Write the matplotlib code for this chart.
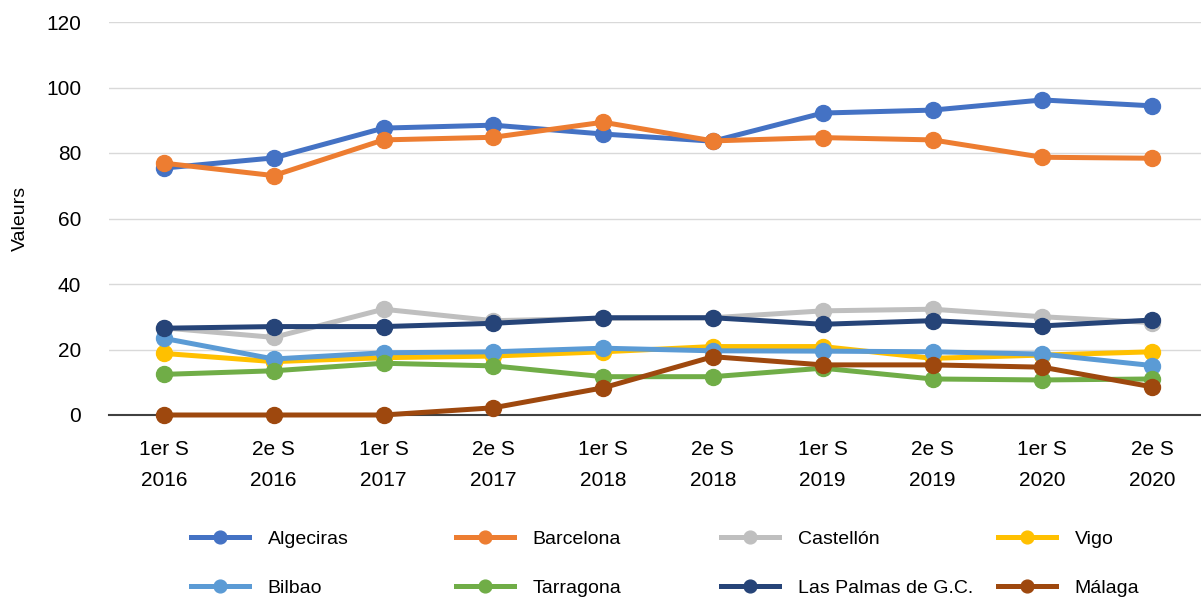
import matplotlib.pyplot as plt

# Categories (semester / year)
semestres = ["1er S", "2e S"] * 5
annees = ["2016", "2016", "2017", "2017", "2018", "2018", "2019", "2019", "2020", "2020"]
tick_labels = [f"{s}\n{a}" for s, a in zip(semestres, annees)]

# Series values
algeciras = [75.4, 78.5, 87.6, 88.5, 85.8, 83.6, 92.2, 93.1, 96.2, 94.4]
barcelona = [76.9, 73.1, 84.0, 84.8, 89.4, 83.7, 84.7, 84.0, 78.7, 78.4]
castellon = [26.6, 23.7, 32.3, 28.8, 29.5, 29.7, 31.8, 32.3, 30.0, 28.2]
vigo = [18.8, 16.3, 17.5, 18.0, 19.3, 20.9, 20.9, 17.3, 18.3, 19.3]
bilbao = [23.4, 17.1, 19.0, 19.3, 20.4, 19.6, 19.5, 19.3, 18.6, 15.1]
tarragona = [12.4, 13.5, 15.8, 15.0, 11.7, 11.7, 14.3, 11.0, 10.7, 11.0]
las_palmas = [26.5, 27.0, 27.0, 28.0, 29.7, 29.7, 27.7, 28.8, 27.2, 29.0]
malaga = [0.0, 0.0, 0.0, 2.2, 8.3, 17.8, 15.3, 15.3, 14.6, 8.6]

series = [
    ("Algeciras", algeciras, "#4472C4"),
    ("Barcelona", barcelona, "#ED7D31"),
    ("Castellón", castellon, "#BFBFBF"),
    ("Vigo", vigo, "#FFC000"),
    ("Bilbao", bilbao, "#5B9BD5"),
    ("Tarragona", tarragona, "#70AD47"),
    ("Las Palmas de G.C.", las_palmas, "#264478"),
    ("Málaga", malaga, "#9E480E"),
]

plt.rcParams['font.family'] = ['Liberation Sans', 'DejaVu Sans']

W, H = 1201, 601
fig = plt.figure(figsize=(W / 100, H / 100), dpi=100)
ax = fig.add_axes([109 / W, (H - 415) / H, (W - 109) / W, 393 / H])

x = list(range(len(tick_labels)))
handles = []
for i, (name, vals, col) in enumerate(series):
    h, = ax.plot(x, vals, color=col, lw=3.6, marker='o', ms=11.5,
                 label=name, zorder=3 + i, clip_on=False)
    handles.append(h)

ax.set_ylim(0, 120)
ax.set_yticks(range(0, 121, 20))
ax.set_xlim(-0.5, 9.445)
ax.set_xticks(x)
ax.set_xticklabels(tick_labels, fontsize=15, linespacing=1.82)
ax.tick_params(axis='both', length=0, labelsize=15, colors='#000000')
ax.tick_params(axis='x', pad=18)
ax.tick_params(axis='y', pad=20)

ax.grid(axis='y', color='#D9D9D9', lw=1)
ax.set_axisbelow(True)
for side in ['top', 'right', 'left']:
    ax.spines[side].set_visible(False)
ax.spines['bottom'].set_color('#404040')
ax.spines['bottom'].set_linewidth(1.5)
ax.spines['bottom'].set_zorder(2)

fig.text(20 / W, 1 - 218 / H, "Valeurs", rotation=90, fontsize=14,
         ha='center', va='center')

# Legend: four columns of two entries each
col_x = [191, 456, 721, 998]
for c in range(4):
    hs = [handles[c], handles[c + 4]]
    leg = fig.legend(hs, [h.get_label() for h in hs], loc='center left',
                     bbox_to_anchor=(col_x[c] / W, 1 - 563.5 / H),
                     frameon=False, fontsize=14, handlelength=3.0,
                     handletextpad=0.95, labelspacing=1.62, borderpad=0,
                     borderaxespad=0, markerscale=0.8)

fig.savefig("out.png", dpi=100)
